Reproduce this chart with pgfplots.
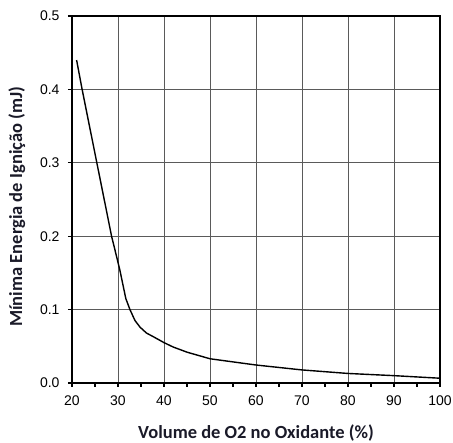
\documentclass[border=0pt]{standalone}
\usepackage{fontspec}
\setmainfont{Liberation Sans}
\newfontfamily\labelfont{Carlito}
\usepackage{pgfplots}
\pgfplotsset{compat=1.18}
\definecolor{gridgray}{HTML}{5A5A5A}
\definecolor{labelink}{HTML}{1A1A28}

\begin{document}
\begin{tikzpicture}
\useasboundingbox (-72pt,-60pt) rectangle (381pt,383pt);
\begin{axis}[
  at={(0,0)}, anchor=south west,
  scale only axis, width=368pt, height=367pt,
  xmin=20, xmax=100, ymin=0, ymax=0.5,
  xtick={20,30,...,100}, minor xtick={25,35,...,95},
  ytick={0,0.1,...,0.5},
  yticklabel style={xshift=-5pt, /pgf/number format/fixed,
    /pgf/number format/fixed zerofill, /pgf/number format/precision=1},
  /pgf/number format/assume math mode=true,
  tick label style={font=\fontsize{14}{16}\selectfont},
  xticklabel style={yshift=-5pt},
  tick align=outside, major tick length=4pt, minor tick length=4pt,
  tick style={black, line width=1.2pt},
  xtick pos=bottom, ytick pos=left,
  axis line style={black, line width=1.8pt},
  grid=major, grid style={gridgray, line width=0.9pt},
  xlabel={Volume de O2 no Oxidante (\%)},
  ylabel={Mínima Energia de Ignição (mJ)},
  label style={font=\labelfont\bfseries\fontsize{18.5}{20}\selectfont, color=labelink},
  xlabel style={at={(axis description cs:0.5,0)}, anchor=center, yshift=-50pt},
  ylabel style={at={(axis description cs:-0.15,0.48)}, anchor=center},
]
\addplot[black, line width=1.4pt, line join=round] coordinates {
  (21.0,0.440) (22.2,0.400) (25.4,0.300) (27.9,0.222) (28.6,0.200)
  (29.35,0.181) (30.4,0.154) (31.7,0.115) (32.6,0.100) (33.7,0.085)
  (34.8,0.076) (36.2,0.068) (37.7,0.063) (40,0.055) (42,0.049)
  (45,0.042) (50,0.033) (60,0.0245) (70,0.0178) (80,0.013)
  (90,0.010) (100,0.0065)
};
\end{axis}
\end{tikzpicture}
\end{document}
